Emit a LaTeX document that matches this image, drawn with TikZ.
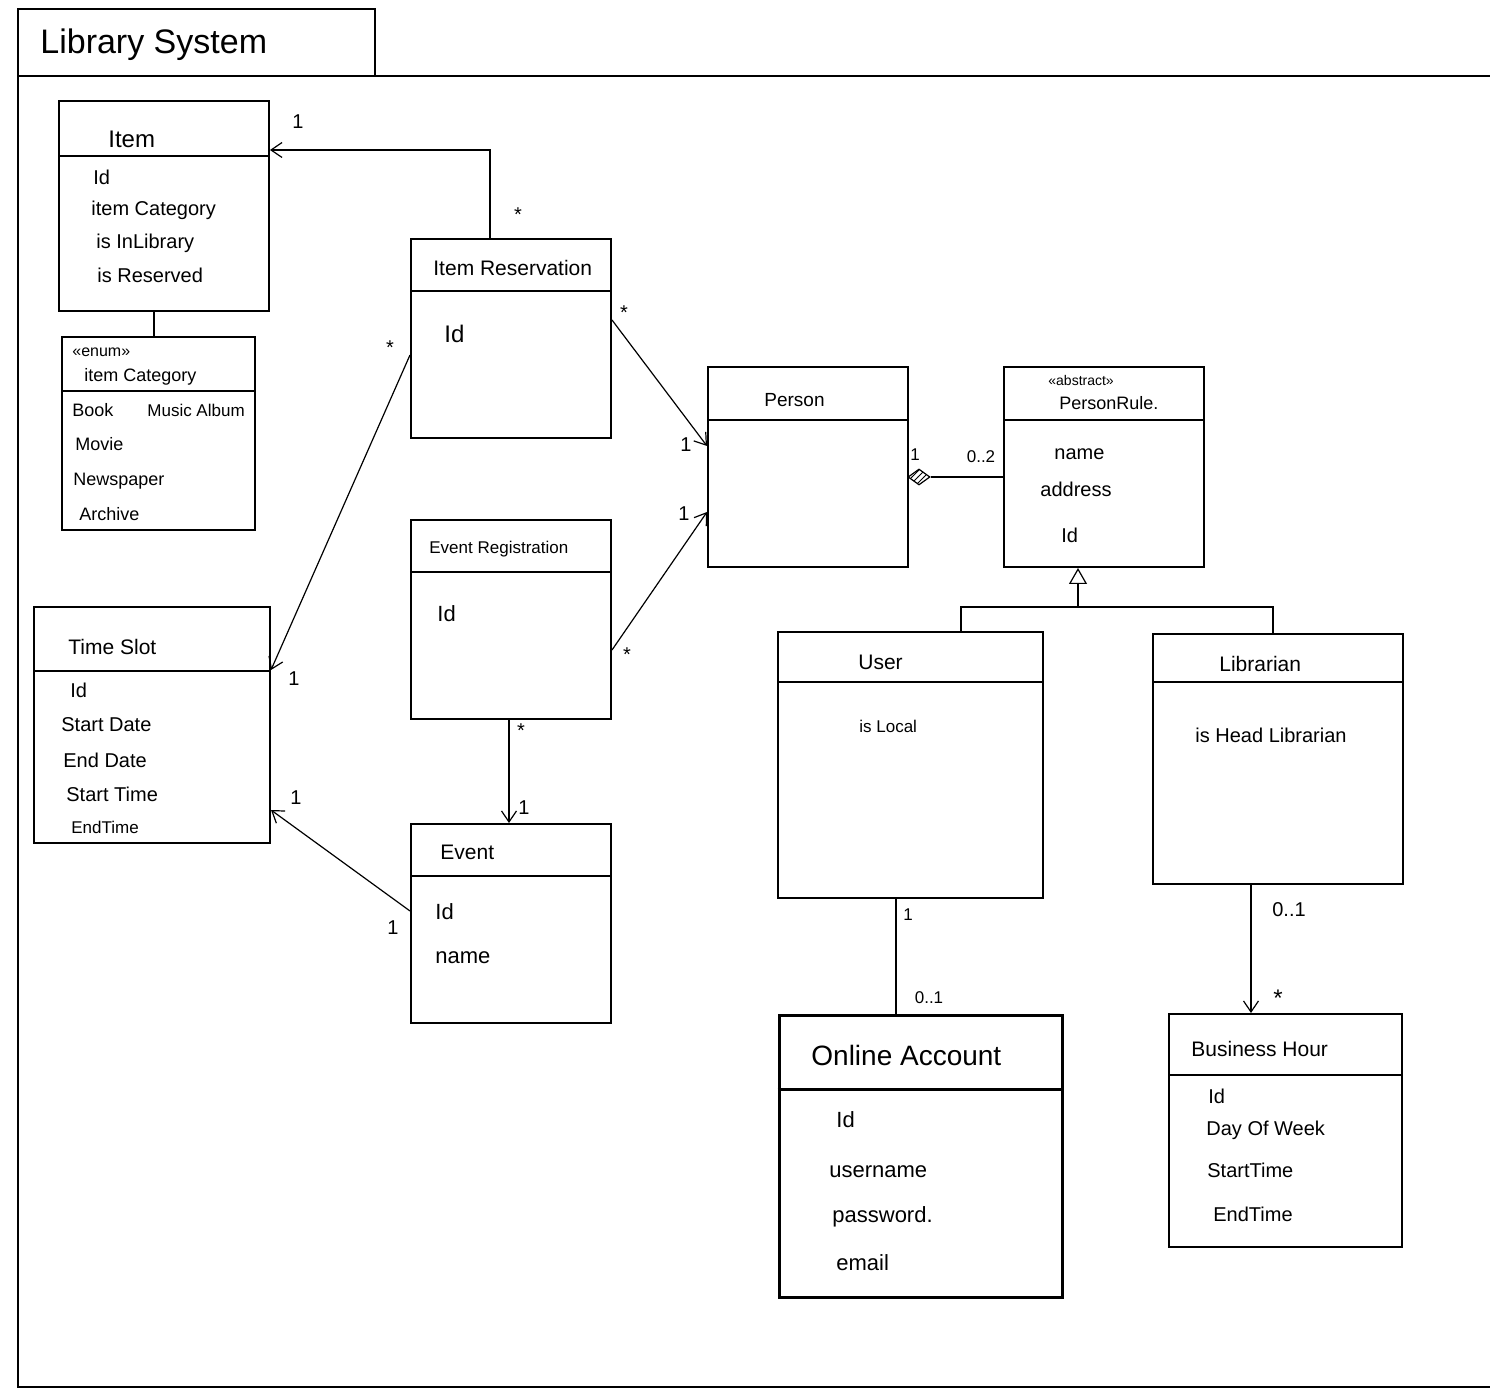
\documentclass[tikz,border=0pt]{standalone}
\usepackage{fontspec}
\setmainfont{Liberation Sans}
\usetikzlibrary{arrows.meta,fit,shapes.geometric,patterns}
\begin{document}
\begin{tikzpicture}[x=0.5pt,y=-0.5pt,
  cls/.style={draw,line width=1pt,inner sep=0pt},
  thickcls/.style={draw,line width=1.5pt,inner sep=0pt},
  hdr/.style={line width=0.9pt},
  txt/.style={anchor=west,inner sep=0pt,font=\fontsize{10}{12}\selectfont},
  small/.style={anchor=west,inner sep=0pt,font=\fontsize{8}{10}\selectfont},
  ttl/.style={anchor=west,inner sep=0pt,font=\fontsize{10.5}{13}\selectfont},
  mult/.style={inner sep=0pt,font=\fontsize{10}{12}\selectfont},
  link/.style={line width=0.6pt},
  nav/.style={link,-{Straight Barb[length=5.5pt,width=7.5pt]}}
]
\useasboundingbox (0,0) rectangle (1490,1395);

% package frame with its name tab
\draw[line width=1pt] (1490,76) -- (18,76) -- (18,1387) -- (1490,1387);
\node[cls, fit={(18,9) (375,76)}] (tab) {};
\node[anchor=west,inner sep=0pt,font=\fontsize{17}{20}\selectfont] (pkgname) at (40,45) {Library System};

% ---------- classes ----------
% Item
\node[cls, fit={(59,101) (269,311)}] (item) {};
\draw[hdr] (item.west |- 0,156) -- (item.east |- 0,156);
\node[ttl,font=\fontsize{12}{14}\selectfont] (itemT) at (108,139) {Item};
\node[txt] (itemA1) at (93,177) {Id};
\node[txt] (itemA2) at (91,210) {item Category};
\node[txt] (itemA3) at (96,243) {is InLibrary};
\node[txt] (itemA4) at (97,275) {is Reserved};

% enumeration itemCategory
\node[cls, fit={(62,337) (255,530)}] (enum) {};
\draw[hdr] (enum.west |- 0,391) -- (enum.east |- 0,391);
\node[small] (enumS) at (72,352) {«enum»};
\node[txt,font=\fontsize{9}{11}\selectfont] (enumT) at (84,377) {item Category};
\node[txt,font=\fontsize{9}{11}\selectfont] (enumA1) at (72,410) {Book};
\node[txt,font=\fontsize{8.5}{10}\selectfont] (enumA2) at (147,410) {Music Album};
\node[txt,font=\fontsize{9}{11}\selectfont] (enumA3) at (75,444) {Movie};
\node[txt,font=\fontsize{9}{11}\selectfont] (enumA4) at (73,481) {Newspaper};
\node[txt,font=\fontsize{9}{11}\selectfont] (enumA5) at (79,514) {Archive};
\draw[link] (item.south -| 154,0) -- (enum.north -| 154,0);

% ItemReservation
\node[cls, fit={(411,239) (611,438)}] (itemres) {};
\draw[hdr] (itemres.west |- 0,291) -- (itemres.east |- 0,291);
\node[ttl] (itemresT) at (433,268) {Item Reservation};
\node[txt,font=\fontsize{12}{14}\selectfont] (itemresA1) at (444,334) {Id};

% EventRegistration
\node[cls, fit={(411,520) (611,719)}] (eventreg) {};
\draw[hdr] (eventreg.west |- 0,572) -- (eventreg.east |- 0,572);
\node[txt,font=\fontsize{8.5}{10}\selectfont] (eventregT) at (429,549) {Event Registration};
\node[txt,font=\fontsize{11}{13}\selectfont] (eventregA1) at (437,614) {Id};

% Event
\node[cls, fit={(411,824) (611,1023)}] (event) {};
\draw[hdr] (event.west |- 0,876) -- (event.east |- 0,876);
\node[ttl] (eventT) at (440,852) {Event};
\node[txt,font=\fontsize{11}{13}\selectfont] (eventA1) at (435,912) {Id};
\node[txt,font=\fontsize{11}{13}\selectfont] (eventA2) at (435,958) {name};

% TimeSlot
\node[cls, fit={(34,607) (270,843)}] (timeslot) {};
\draw[hdr] (timeslot.west |- 0,671) -- (timeslot.east |- 0,671);
\node[ttl] (timeslotT) at (68,647) {Time Slot};
\node[txt] (timeslotA1) at (70,690) {Id};
\node[txt] (timeslotA2) at (61,725) {Start Date};
\node[txt] (timeslotA3) at (63,760) {End Date};
\node[txt] (timeslotA4) at (66,794) {Start Time};
\node[txt,font=\fontsize{8.5}{10}\selectfont] (timeslotA5) at (71,827) {EndTime};

% Person
\node[cls, fit={(708,367) (908,567)}] (person) {};
\draw[hdr] (person.west |- 0,420) -- (person.east |- 0,420);
\node[ttl,font=\fontsize{9.5}{12}\selectfont] (personT) at (764,400) {Person};

% PersonRule (abstract)
\node[cls, fit={(1004,367) (1204,567)}] (personrule) {};
\draw[hdr] (personrule.west |- 0,420) -- (personrule.east |- 0,420);
\node[small,font=\fontsize{7}{8}\selectfont] (personruleS) at (1048,381) {«abstract»};
\node[txt,font=\fontsize{9}{11}\selectfont] (personruleT) at (1059,403) {PersonRule.};
\node[txt] (personruleA1) at (1054,454) {name};
\node[txt] (personruleA2) at (1040,489) {address};
\node[txt] (personruleA3) at (1061,535) {Id};

% User
\node[cls, fit={(778,632) (1043,898)}] (user) {};
\draw[hdr] (user.west |- 0,682) -- (user.east |- 0,682);
\node[ttl] (userT) at (858,662) {User};
\node[txt,font=\fontsize{8.5}{10}\selectfont] (userA1) at (859,726) {is Local};

% Librarian
\node[cls, fit={(1153,634) (1403,884)}] (librarian) {};
\draw[hdr] (librarian.west |- 0,682) -- (librarian.east |- 0,682);
\node[ttl] (librarianT) at (1219,664) {Librarian};
\node[txt] (librarianA1) at (1195,735) {is Head Librarian};

% OnlineAccount
\node[thickcls, fit={(779,1015) (1062,1297)}] (account) {};
\draw[line width=1.5pt] (account.west |- 0,1089) -- (account.east |- 0,1089);
\node[ttl,font=\fontsize{14}{17}\selectfont] (accountT) at (811,1055) {Online Account};
\node[txt,font=\fontsize{11}{13}\selectfont] (accountA1) at (836,1120) {Id};
\node[txt,font=\fontsize{11}{13}\selectfont] (accountA2) at (829,1172) {username};
\node[txt,font=\fontsize{11}{13}\selectfont] (accountA3) at (832,1217) {password.};
\node[txt,font=\fontsize{11}{13}\selectfont] (accountA4) at (836,1263) {email};

% BusinessHour
\node[cls, fit={(1169,1014) (1402,1247)}] (bhour) {};
\draw[hdr] (bhour.west |- 0,1075) -- (bhour.east |- 0,1075);
\node[ttl] (bhourT) at (1191,1049) {Business Hour};
\node[txt] (bhourA1) at (1208,1096) {Id};
\node[txt] (bhourA2) at (1206,1130) {Day Of Week};
\node[txt] (bhourA3) at (1207,1170) {StartTime};
\node[txt] (bhourA4) at (1213,1214) {EndTime};

% ---------- associations ----------
\coordinate (resbend) at (490,150);
\draw[nav] (itemres.north -| resbend) -- (resbend) -- (item.east |- resbend);
\node[mult] (m1) at (298,122) {1};
\node[mult] (m2) at (518,215) {*};

\draw[nav] (itemres.west |- 0,355) -- (timeslot.east |- 0,670);
\node[mult] (m3) at (390,348) {*};
\node[mult] (m4) at (294,679) {1};

\draw[nav] (itemres.east |- 0,320) -- (person.west |- 0,446);
\node[mult] (m5) at (624,313) {*};
\node[mult] (m6) at (686,445) {1};

\draw[nav] (eventreg.east |- 0,650) -- (person.west |- 0,512);
\node[mult] (m7) at (627,655) {*};
\node[mult] (m8) at (684,514) {1};

\draw[nav] (eventreg.south -| 509,0) -- (event.north -| 509,0);
\node[mult] (m9) at (521,731) {*};
\node[mult] (m10) at (524,808) {1};

\draw[nav] (event.west |- 0,911) -- (timeslot.east |- 0,810);
\node[mult] (m11) at (393,928) {1};
\node[mult] (m12) at (296,798) {1};

% aggregation Person <>-- PersonRule
\node[diamond, draw, line width=0.6pt, pattern=north east lines,
      minimum width=11pt, minimum height=8pt, inner sep=0pt] (agg) at (919,477) {};
\draw[link] (agg.east) -- (personrule.west |- agg.east);
\node[mult,font=\fontsize{8.5}{10}\selectfont] (m13) at (915,455) {1};
\node[mult,font=\fontsize{8.5}{10}\selectfont] (m14) at (981,457) {0..2};

% generalization User, Librarian --|> PersonRule
\coordinate (gbar) at (1078,607);
\draw[link] (user.north -| 961,0) -- (gbar -| 961,0) -- (gbar -| 1273,0) -- (librarian.north -| 1273,0);
\draw[link,-{Triangle[open,length=8pt,width=9pt]}] (gbar) -- (personrule.south -| gbar);

% User -- OnlineAccount
\draw[link] (user.south -| 896,0) -- (account.north -| 896,0);
\node[mult,font=\fontsize{8.5}{10}\selectfont] (m15) at (908,915) {1};
\node[mult,font=\fontsize{8.5}{10}\selectfont] (m16) at (929,998) {0..1};

% Librarian --> BusinessHour
\draw[nav] (librarian.south -| 1251,0) -- (bhour.north -| 1251,0);
\node[mult] (m17) at (1289,910) {0..1};
\node[mult,font=\fontsize{12}{14}\selectfont] (m18) at (1278,998) {*};
\end{tikzpicture}
\end{document}
